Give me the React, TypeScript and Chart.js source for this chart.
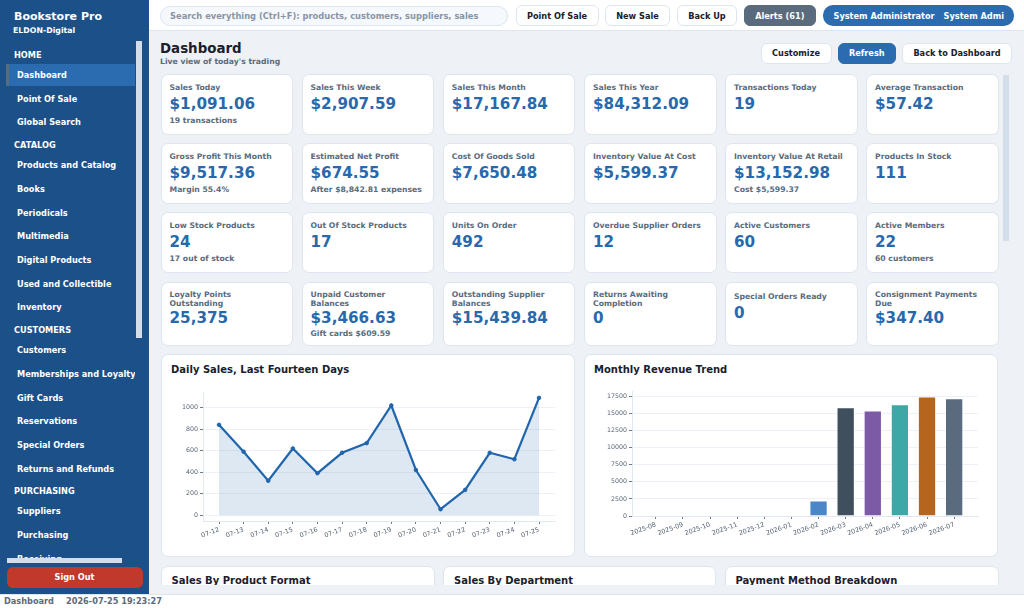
import React, { useEffect, useRef } from 'react';
import Chart from 'chart.js/auto';

const dailyLabels = ['07-12', '07-13', '07-14', '07-15', '07-16', '07-17', '07-18', '07-19', '07-20', '07-21', '07-22', '07-23', '07-24', '07-25'];
const dailySales = [840, 590, 320, 620, 390, 580, 670, 1020, 420, 55, 235, 580, 520, 1091];
const dailyTicks = [0, 200, 400, 600, 800, 1000];

const monthLabels = ['2025-08', '2025-09', '2025-10', '2025-11', '2025-12', '2026-01', '2026-02', '2026-03', '2026-04', '2026-05', '2026-06', '2026-07'];
const monthRevenue = [0, 0, 0, 0, 0, 0, 2250, 15850, 15400, 16300, 17420, 17168];
const monthColors = ['#4a86c8', '#4a86c8', '#4a86c8', '#4a86c8', '#4a86c8', '#4a86c8', '#4a86c8', '#3f4f5e', '#7d5aa6', '#3da8a6', '#b5651d', '#5a6b7d'];
const monthTicks = [0, 2500, 5000, 7500, 10000, 12500, 15000, 17500];

const metricLabels = [
  'Sales Today', 'Sales This Week', 'Sales This Month', 'Sales This Year', 'Transactions Today', 'Average Transaction',
  'Gross Profit This Month', 'Estimated Net Profit', 'Cost Of Goods Sold', 'Inventory Value At Cost', 'Inventory Value At Retail', 'Products In Stock',
  'Low Stock Products', 'Out Of Stock Products', 'Units On Order', 'Overdue Supplier Orders', 'Active Customers', 'Active Members',
  'Loyalty Points Outstanding', 'Unpaid Customer Balances', 'Outstanding Supplier Balances', 'Returns Awaiting Completion', 'Special Orders Ready', 'Consignment Payments Due',
];
const metricValues = [
  '$1,091.06', '$2,907.59', '$17,167.84', '$84,312.09', '19', '$57.42',
  '$9,517.36', '$674.55', '$7,650.48', '$5,599.37', '$13,152.98', '111',
  '24', '17', '492', '12', '60', '22',
  '25,375', '$3,466.63', '$15,439.84', '0', '0', '$347.40',
];
const metricNotes = [
  '19 transactions', '', '', '', '', '',
  'Margin 55.4%', 'After $8,842.81 expenses', '', '', 'Cost $5,599.37', '',
  '17 out of stock', '', '', '', '', '60 customers',
  '', 'Gift cards $609.59', '', '', '', '',
];

// text, top, is it a section heading
const navItems: [string, number, boolean][] = [
  ['HOME', 55, true], ['Dashboard', 75, false], ['Point Of Sale', 99, false], ['Global Search', 122, false],
  ['CATALOG', 145, true], ['Products and Catalog', 165, false], ['Books', 189, false], ['Periodicals', 213, false],
  ['Multimedia', 236, false], ['Digital Products', 260, false], ['Used and Collectible', 284, false], ['Inventory', 307, false],
  ['CUSTOMERS', 330, true], ['Customers', 350, false], ['Memberships and Loyalty', 374, false], ['Gift Cards', 398, false],
  ['Reservations', 421, false], ['Special Orders', 445, false], ['Returns and Refunds', 469, false],
  ['PURCHASING', 491, true], ['Suppliers', 511, false], ['Purchasing', 535, false], ['Receiving', 559, false],
];

const colLefts = [160.5, 301.5, 442.8, 584, 725, 866];
const rowTops = [74, 143, 212, 281.5];
const FONT = '"DejaVu Sans", sans-serif';
const SOFT = '#dde5f0';

const box = (left: number, top: number, width: number, height: number): React.CSSProperties => ({
  position: 'absolute', left, top, width, height, boxSizing: 'border-box',
});

function Txt({ x, y, size, color, children, weight = 700 }: { x: number; y: number; size: number; color: string; children: React.ReactNode; weight?: number }) {
  return (
    <div style={{ position: 'absolute', left: x, top: y, transform: 'translateY(-50%)', fontSize: size, fontWeight: weight, color, whiteSpace: 'nowrap', lineHeight: 1.1 }}>
      {children}
    </div>
  );
}

function Btn({ x, w, y, h, label, bg = '#fff', color = '#1a202c', r = 6 }: { x: number; w: number; y: number; h: number; label: string; bg?: string; color?: string; r?: number }) {
  return (
    <div style={{ ...box(x, y, w, h), background: bg, border: `1px solid ${bg === '#fff' ? SOFT : bg}`, borderRadius: r, color, fontSize: 8.2, fontWeight: 700, display: 'flex', alignItems: 'center', justifyContent: 'center', whiteSpace: 'nowrap', overflow: 'hidden' }}>
      {label}
    </div>
  );
}

// the axes have margins past the data, so the ticks are set by hand
function axisCommon(xLabels: string[], yTicks: number[]) {
  return {
    x: {
      type: 'linear' as const,
      offset: false,
      afterBuildTicks: (s: any) => { s.ticks = xLabels.map((_, i) => ({ value: i })); },
      grid: { offset: false, drawOnChartArea: false, tickColor: '#4a5568', tickLength: 3, tickWidth: 0.8 },
      border: { color: '#e2e8f0', width: 1 },
      ticks: {
        autoSkip: false, maxRotation: 20, minRotation: 20, padding: 2,
        color: '#556273', font: { family: FONT, size: 6.4 },
        callback: (v: any) => xLabels[v] ?? '',
      },
    },
    y: {
      afterBuildTicks: (s: any) => { s.ticks = yTicks.map((value) => ({ value })); },
      grid: { color: '#edf1f7', tickColor: '#4a5568', tickLength: 3, tickWidth: 0.8, lineWidth: 1 },
      border: { color: '#e2e8f0', width: 1 },
      ticks: {
        autoSkip: false, color: '#556273', font: { family: FONT, size: 6.3 }, padding: 2,
        callback: (v: any) => String(v),
      },
    },
  };
}

function DailyChart() {
  const ref = useRef<HTMLCanvasElement>(null);
  useEffect(() => {
    if (!ref.current) return;
    const axes = axisCommon(dailyLabels, dailyTicks);
    const chart = new Chart(ref.current, {
      type: 'line',
      data: {
        datasets: [{
          data: dailySales.map((v, i) => ({ x: i, y: v })),
          borderColor: '#2166ac',
          backgroundColor: 'rgba(33, 102, 172, 0.15)',
          borderWidth: 2.2,
          tension: 0,
          fill: { value: 0 },
          pointRadius: 1.8,
          pointBorderWidth: 1,
          pointBackgroundColor: '#2166ac',
          pointBorderColor: '#2166ac',
        }],
      },
      options: {
        animation: false,
        responsive: false,
        layout: { padding: { top: 6, right: 15, left: 0, bottom: 0 } },
        plugins: { legend: { display: false }, tooltip: { enabled: false } },
        scales: {
          x: { ...axes.x, min: -0.65, max: 13.65, afterFit: (s: any) => { s.height = 35; } },
          y: { ...axes.y, min: -54.5, max: 1145.6, afterFit: (s: any) => { s.width = 38; } },
        },
      },
    });
    return () => chart.destroy();
  }, []);
  return <canvas ref={ref} width={405} height={170} style={{ position: 'absolute', left: 165, top: 385.7, width: 405, height: 170 }} />;
}

function MonthlyChart() {
  const ref = useRef<HTMLCanvasElement>(null);
  useEffect(() => {
    if (!ref.current) return;
    const axes = axisCommon(monthLabels, monthTicks);
    const chart = new Chart(ref.current, {
      type: 'bar',
      data: {
        datasets: [{
          data: monthRevenue.map((v, i) => ({ x: i, y: v })),
          backgroundColor: monthColors,
          borderColor: 'rgba(255, 255, 255, 0.6)',
          borderWidth: 0.8,
          barPercentage: 0.66,
          categoryPercentage: 1,
        }],
      },
      options: {
        animation: false,
        responsive: false,
        layout: { padding: { top: 6, right: 15, left: 0, bottom: 0 } },
        plugins: { legend: { display: false }, tooltip: { enabled: false } },
        scales: {
          x: { ...axes.x, min: -0.88, max: 11.88, afterFit: (s: any) => { s.height = 35; } },
          y: { ...axes.y, min: 0, max: 18270, afterFit: (s: any) => { s.width = 43; } },
        },
      },
    });
    return () => chart.destroy();
  }, []);
  return <canvas ref={ref} width={404} height={166} style={{ position: 'absolute', left: 589, top: 385.3, width: 404, height: 166 }} />;
}

export default function App() {
  useEffect(() => {
    document.body.style.margin = '0';
  }, []);
  const bottomTitles: [string, number, number][] = [['Sales By Product Format', 160.5, 274], ['Sales By Department', 443, 273], ['Payment Method Breakdown', 724.5, 274]];
  return (
    <div style={{ position: 'relative', width: 1024, height: 608, overflow: 'hidden', background: '#eef2f7', fontFamily: FONT }}>
      {/* top bar */}
      <div style={{ ...box(149, 0, 875, 31), background: '#fff', borderBottom: `1px solid ${SOFT}` }} />
      <div style={{ ...box(160, 5.5, 348, 20.5), background: '#f5f8fc', border: `1px solid ${SOFT}`, borderRadius: 10, color: '#8a94a3', fontSize: 8.33, fontWeight: 700, display: 'flex', alignItems: 'center', paddingLeft: 9, whiteSpace: 'nowrap' }}>
        Search everything (Ctrl+F): products, customers, suppliers, sales
      </div>
      <Btn x={515.5} w={83} y={5} h={21} label="Point Of Sale" />
      <Btn x={605} w={65} y={5} h={21} label="New Sale" />
      <Btn x={677} w={60} y={5} h={21} label="Back Up" />
      <Btn x={743.5} w={72.5} y={5} h={21} label="Alerts (61)" bg="#5a6b7d" color="#fff" />
      <div style={{ ...box(822.5, 5, 191.5, 21), background: '#2b6cb0', borderRadius: 10, color: '#fff', fontSize: 8.2, fontWeight: 700, display: 'flex', alignItems: 'center', paddingLeft: 11, whiteSpace: 'nowrap', overflow: 'hidden' }}>
        <span style={{ marginRight: 9 }}>System Administrator</span><span>System Admi</span>
      </div>

      {/* heading */}
      <Txt x={160} y={49} size={13.4} color="#1a202c">Dashboard</Txt>
      <Txt x={160} y={61.5} size={7.7} color="#5a6b7d">Live view of today's trading</Txt>
      <Btn x={760.5} w={71} y={43} h={20.5} label="Customize" />
      <Btn x={837.5} w={58.5} y={43} h={20.5} label="Refresh" bg="#2b6cb0" color="#fff" />
      <Btn x={902} w={110} y={43} h={20.5} label="Back to Dashboard" />

      {/* metric cards */}
      {metricLabels.map((label, i) => {
        const col = i % 6;
        const row = Math.floor(i / 6);
        const left = colLefts[col];
        const top = rowTops[row];
        const tall = row === 3;
        const twoLine = tall && col !== 4;
        return (
          <div key={label} style={{ ...box(left, top, 132.5, tall ? 64 : 60.5), background: '#fff', border: `1px solid ${SOFT}`, borderRadius: 7 }}>
            <div style={{ position: 'absolute', left: 8, top: twoLine ? 7 : (tall ? 9 : 8), width: 111, fontSize: 7.7, fontWeight: 700, color: '#5a6b7d', lineHeight: '9.2px' }}>{label}</div>
            <div style={{ position: 'absolute', left: 8, top: twoLine ? 26 : (tall ? 21 : 20), fontSize: 15.2, fontWeight: 700, color: '#2869ad', lineHeight: '19px', whiteSpace: 'nowrap' }}>{metricValues[i]}</div>
            {metricNotes[i] && <div style={{ position: 'absolute', left: 8, top: tall ? 46 : 41, fontSize: 7.7, fontWeight: 700, color: '#5a6b7d', lineHeight: '9.2px', whiteSpace: 'nowrap' }}>{metricNotes[i]}</div>}
          </div>
        );
      })}
      <div style={{ ...box(1003, 75, 6, 166), background: '#d3deea' }} />

      {/* chart panels */}
      <div style={{ ...box(160.5, 354, 414, 203), background: '#fff', border: `1px solid ${SOFT}`, borderRadius: 7 }} />
      <Txt x={171} y={369} size={10} color="#1a202c">Daily Sales, Last Fourteen Days</Txt>
      <DailyChart />
      <div style={{ ...box(583.5, 354, 414.5, 203), background: '#fff', border: `1px solid ${SOFT}`, borderRadius: 7 }} />
      <Txt x={594} y={369} size={10} color="#1a202c">Monthly Revenue Trend</Txt>
      <MonthlyChart />

      {/* bottom row, cut off by the status bar */}
      <div style={{ ...box(149, 560, 875, 25), overflow: 'hidden' }}>
        {bottomTitles.map(([title, left, width]) => (
          <div key={title} style={{ ...box(left - 149, 5.7, width, 60), background: '#fff', border: `1px solid ${SOFT}`, borderRadius: 7 }}>
            <div style={{ position: 'absolute', left: 10, top: 8, fontSize: 10, fontWeight: 700, color: '#1a202c', whiteSpace: 'nowrap' }}>{title}</div>
          </div>
        ))}
      </div>

      {/* status bar */}
      <div style={{ ...box(0, 593.5, 1024, 14.5), background: '#fff', borderTop: `1px solid ${SOFT}` }} />
      <Txt x={4} y={602} size={8.2} color="#5a6b7d">Dashboard</Txt>
      <Txt x={66} y={602} size={8.2} color="#5a6b7d">2026-07-25 19:23:27</Txt>

      {/* sidebar */}
      <div style={{ ...box(0, 0, 148.5, 594), background: '#1c5088', overflow: 'hidden' }}>
        <Txt x={14} y={17} size={11} color="#fff">Bookstore Pro</Txt>
        <Txt x={13} y={30.5} size={7.8} color="#fff">ELDON-Digital</Txt>
        <div style={{ ...box(6, 64, 128.5, 22), background: '#2b6cb0', borderLeft: '3px solid #5a6b7d' }} />
        <div style={{ ...box(0, 0, 135, 558), overflow: 'hidden' }}>
          {navItems.map(([text, y, head]) => (
            <Txt key={text} x={head ? 14 : 17} y={y + 1.3} size={8.2} color="#fff">{text}</Txt>
          ))}
        </div>
        <div style={{ ...box(135.5, 41, 6, 297), background: '#d3deea' }} />
        <div style={{ ...box(7, 558, 115, 5), background: '#d3deea' }} />
        <div style={{ ...box(6.5, 567, 136, 20.5), background: '#c0392b', borderRadius: 6, color: '#fff', fontSize: 8.2, fontWeight: 700, display: 'flex', alignItems: 'center', justifyContent: 'center' }}>Sign Out</div>
      </div>
    </div>
  );
}
